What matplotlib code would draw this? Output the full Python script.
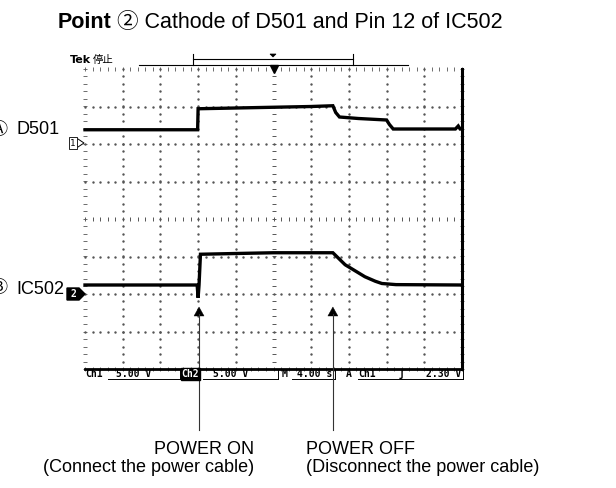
import matplotlib
matplotlib.use('Agg')
import matplotlib.pyplot as plt
import numpy as np
from matplotlib.patches import Polygon

# Scope settings (4 s/div, 5 V/div on both channels)
SEC_PER_DIV = 4.0
VOLT_PER_DIV = 5.0
CH1_GROUND_DIV = 2.0
CH2_GROUND_DIV = -2.0

# Ch1: cathode of D501
d501_t = [0, 11.95, 12.0, 16, 20, 24, 26.3, 26.6, 27.0, 29, 32.0, 32.3, 32.7, 36, 39.3, 39.6, 39.8, 40]
d501_v = [1.9, 1.9, 4.7, 4.8, 4.9, 5.0, 5.1, 4.2, 3.6, 3.4, 3.2, 2.6, 2.0, 2.0, 2.0, 2.4, 2.0, 2.0]

# Ch2: pin 12 of IC502
ic502_t = [0, 11.9, 12.0, 12.1, 12.25, 16, 20, 24, 26.3, 27.6, 28.65, 29.7, 30.8, 31.5, 33, 40]
ic502_v = [1.2, 1.2, -0.5, 1.2, 5.3, 5.4, 5.5, 5.5, 5.5, 3.9, 3.1, 2.3, 1.7, 1.4, 1.25, 1.2]

event_t = [12.1, 26.3]
event_labels = [('POWER ON', '(Connect the power cable)'),
                ('POWER OFF', '(Disconnect the power cable)')]

status_fields = ['Ch1', '5.00 V', 'Ch2', '5.00 V', 'M', '4.00 s', 'A', 'Ch1', 'ʃ', '2.30 V']

W, H = 616, 488
SANS = ['Liberation Sans', 'Noto Sans CJK JP', 'DejaVu Sans']
MONO = 'DejaVu Sans Mono'


def fx(x):
    return x / W


def fy(y):
    return 1 - y / H


fig = plt.figure(figsize=(W / 100, H / 100), dpi=100)
fig.patch.set_facecolor('white')

# graticule, 10 x 8 divisions
GL, GR, GT, GB = 85, 462, 69, 369
ax = fig.add_axes([fx(GL), fy(GB), (GR - GL) / W, (GB - GT) / H])
ax.set_xlim(0, 10 * SEC_PER_DIV)
ax.set_ylim(-4, 4)
ax.axis('off')

dot = dict(linestyle='none', color='#555555', clip_on=False)
ys = np.arange(-4, 4.01, 0.2)
xs = np.arange(0, 40.01, 0.8)
for k in range(1, 10):
    if k == 5:
        continue
    ax.plot(np.full_like(ys, k * SEC_PER_DIV), ys, marker='s', markersize=0.7, **dot)
for j in range(-3, 4):
    if j == 0:
        continue
    ax.plot(xs, np.full_like(xs, j), marker='s', markersize=0.7, **dot)

# centre lines carry minor ticks
ax.plot(np.full_like(ys, 20), ys, marker='_', markersize=3, markeredgewidth=0.7, **dot)
ax.plot(xs, np.zeros_like(xs), marker='|', markersize=3, markeredgewidth=0.7, **dot)
# outer edges
ax.plot(xs, np.full_like(xs, 4), marker='|', markersize=3, markeredgewidth=0.6, **dot)
ax.plot(np.zeros_like(ys), ys, marker='_', markersize=3, markeredgewidth=0.6, **dot)
ax.plot(np.full_like(ys, 40), ys, marker='_', markersize=3, markeredgewidth=0.6, **dot)
ax.plot(xs, np.full_like(xs, -4), marker='|', markersize=3, markeredgewidth=0.6, **dot)
ax.plot([40, 40], [-4, 4], color='black', lw=2.2, clip_on=False)
ax.plot([0, 40], [-4, -4], color='black', lw=2.0, clip_on=False)

# trigger position marker
ax.plot([20], [4], marker='v', markersize=6, color='black', clip_on=False)

# traces
ax.plot(d501_t, CH1_GROUND_DIV + np.array(d501_v) / VOLT_PER_DIV,
        color='black', lw=2.4, solid_joinstyle='miter', clip_on=False)
ax.plot(ic502_t, CH2_GROUND_DIV + np.array(ic502_v) / VOLT_PER_DIV,
        color='black', lw=2.4, solid_joinstyle='miter', clip_on=False)

# channel ground markers
y1 = 143
fig.text(fx(73), fy(y1), '1', fontsize=6.5, family=MONO, ha='center', va='center',
         bbox=dict(boxstyle='square,pad=0.15', fc='white', ec='black', lw=0.6))
fig.add_artist(plt.Line2D([fx(78), fx(84), fx(78)], [fy(y1 - 4), fy(y1), fy(y1 + 4)],
                          color='black', lw=0.7, transform=fig.transFigure))
y2 = 294
fig.add_artist(Polygon([[fx(67), fy(y2 - 6)], [fx(79), fy(y2 - 6)], [fx(85), fy(y2)],
                        [fx(79), fy(y2 + 6)], [fx(67), fy(y2 + 6)]],
                       closed=True, fc='black', ec='black', transform=fig.transFigure))
fig.text(fx(73), fy(y2), '2', fontsize=7, family=MONO, weight='bold', color='white',
         ha='center', va='center')

# channel names on the left
for y, circ, name in [(130, 'Ⓐ', 'D501'), (289, 'Ⓑ', 'IC502')]:
    fig.text(fx(7), fy(y), circ, fontsize=13, family=SANS, ha='right', va='center')
    fig.text(fx(16), fy(y), name, fontsize=13, family=SANS, ha='left', va='center')

# header above the graticule
fig.text(fx(70), fy(60), 'Tek', fontsize=8, family='DejaVu Sans', weight='bold',
         ha='left', va='center')
fig.text(fx(93), fy(60), '停止', fontsize=7.5, family='Noto Sans CJK JP',
         ha='left', va='center')
hline = dict(color='black', lw=0.8, transform=fig.transFigure)
fig.add_artist(plt.Line2D([fx(139), fx(408)], [fy(65), fy(65)], **hline))
fig.add_artist(plt.Line2D([fx(193), fx(353)], [fy(59), fy(59)], **hline))
for x in (193, 353):
    fig.add_artist(plt.Line2D([fx(x), fx(x)], [fy(54), fy(65)], **hline))
fig.add_artist(Polygon([[fx(270), fy(54)], [fx(276), fy(54)], [fx(273), fy(57)]],
                       closed=True, fc='black', ec='black', lw=0.5,
                       transform=fig.transFigure))

# title
renderer = fig.canvas.get_renderer()
t0 = fig.text(fx(58), fy(23), 'Point', fontsize=15.5, family=SANS, weight='bold',
              ha='left', va='center')
bb = t0.get_window_extent(renderer)
fig.text(bb.x1 / W + fx(5), fy(23), '② Cathode of D501 and Pin 12 of IC502',
         fontsize=15.5, family=SANS, ha='left', va='center')

# status bar below the graticule
ys_bar = 374
mono = dict(fontsize=7, family=MONO, weight='bold', va='center')
fig.text(fx(85), fy(ys_bar), status_fields[0], ha='left', **mono)
fig.text(fx(151), fy(ys_bar), status_fields[1], ha='right', **mono)
fig.text(fx(190.5), fy(ys_bar), status_fields[2], ha='center', color='white',
         bbox=dict(boxstyle='square,pad=0.1', fc='black', ec='black'), **mono)
fig.text(fx(248), fy(ys_bar), status_fields[3], ha='right', **mono)
fig.text(fx(282), fy(ys_bar), status_fields[4], ha='left', **mono)
fig.text(fx(332), fy(ys_bar), status_fields[5], ha='right', **mono)
fig.text(fx(346), fy(ys_bar), status_fields[6], ha='left', **mono)
fig.text(fx(358), fy(ys_bar), status_fields[7], ha='left', **mono)
fig.text(fx(402), fy(ys_bar), status_fields[8], ha='center', **mono)
fig.text(fx(461), fy(ys_bar), status_fields[9], ha='right', **mono)
uline = dict(color='black', lw=0.7, transform=fig.transFigure)
for x0, x1 in [(108, 180), (203, 278), (292, 335), (358, 463)]:
    fig.add_artist(plt.Line2D([fx(x0), fx(x1)], [fy(379), fy(379)], **uline))
    fig.add_artist(plt.Line2D([fx(x1), fx(x1)], [fy(369), fy(379)], **uline))

# power on / off call-outs
for t, (head, sub) in zip(event_t, event_labels):
    x = GL + t / (10 * SEC_PER_DIV) * (GR - GL)
    fig.add_artist(plt.Line2D([fx(x), fx(x)], [fy(314), fy(430)], color='#333333',
                              lw=0.8, transform=fig.transFigure))
    fig.add_artist(Polygon([[fx(x - 5), fy(316)], [fx(x + 5), fy(316)], [fx(x), fy(307)]],
                           closed=True, fc='black', ec='black', lw=0.3,
                           transform=fig.transFigure))
    if head == 'POWER ON':
        fig.text(fx(254), fy(449), head, fontsize=13, family=SANS, ha='right', va='center')
        fig.text(fx(254), fy(468), sub, fontsize=13, family=SANS, ha='right', va='center')
    else:
        fig.text(fx(306), fy(449), head, fontsize=13, family=SANS, ha='left', va='center')
        fig.text(fx(306), fy(468), sub, fontsize=13, family=SANS, ha='left', va='center')

fig.savefig('out.png', dpi=100, facecolor='white')
